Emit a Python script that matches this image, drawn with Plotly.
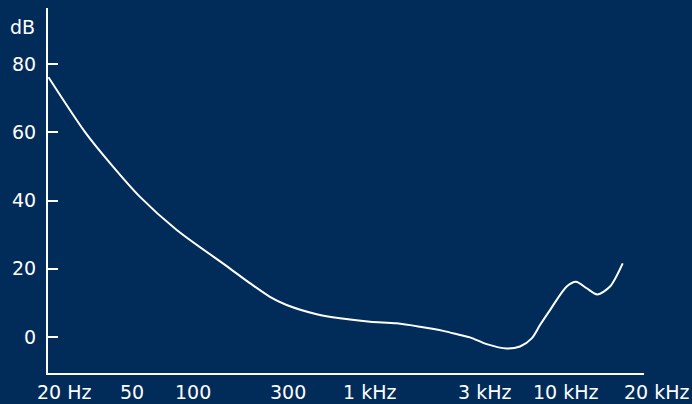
import math
import plotly.graph_objects as go

# Threshold-of-hearing style curve (frequency in Hz, level in dB)
freq_hz = [18, 27.8, 37.4, 53.4, 82.6, 149.6, 197, 250, 305, 436, 575, 821,
           1127, 1487, 1962, 2392, 2694, 3285, 4166, 4880, 5608, 6187, 6969,
           8501, 9491, 10778, 12226, 14215, 16530]
level_db = [76.2, 60.1, 51.0, 41.1, 31.4, 20.8, 15.8, 11.8, 9.4, 6.7, 5.5, 4.5,
            4.0, 3.0, 1.8, 0.6, -0.1, -2.1, -3.4, -2.8, -0.4, 3.5, 7.9,
            14.8, 16.2, 14.3, 12.5, 14.8, 21.6]

x_tick_vals = [20, 50, 100, 300, 1000, 3000, 10000, 20000]
x_tick_text = ["20 Hz", "50", "100", "300", "1 kHz", "3 kHz", "10 kHz", "20 kHz"]
y_tick_vals = [0, 20, 40, 60, 80]
y_unit = "dB"

# ---- styling ----
BG = "#012c5a"
FG = "#ffffff"
FONT = "DejaVu Sans"
FS = 19
label_nudge_px = [7, -2, 0, 3, -17, 5, -14, 18]   # hand placement of x labels

fig = go.Figure()
fig.add_trace(go.Scatter(
    x=freq_hz, y=level_db, mode="lines",
    line=dict(color=FG, width=2, shape="spline", smoothing=0.8),
    hoverinfo="skip", showlegend=False,
))

annotations = [dict(
    text=y_unit, xref="paper", yref="paper", x=0, y=0.949,
    xanchor="right", yanchor="middle", xshift=-11, showarrow=False,
    font=dict(family=FONT, size=FS, color=FG),
)]
for v, t, dx in zip(x_tick_vals, x_tick_text, label_nudge_px):
    annotations.append(dict(
        text=t, x=math.log10(v), xref="x", y=0, yref="paper",
        xanchor="center", yanchor="bottom", xshift=dx, yshift=-31,
        borderpad=0,
        showarrow=False, font=dict(family=FONT, size=FS, color=FG),
    ))

fig.update_layout(
    width=692, height=404,
    margin=dict(l=48, r=48, t=8, b=31, pad=0),
    paper_bgcolor=BG, plot_bgcolor=BG,
    font=dict(family=FONT, size=FS, color=FG),
    showlegend=False,
    xaxis=dict(
        type="log", range=[1.2528, 4.3282],
        showline=True, linecolor=FG, linewidth=2,
        showgrid=False, zeroline=False, ticks="",
        showticklabels=False,
    ),
    yaxis=dict(
        range=[-10.56, 96.5],
        showline=True, linecolor=FG, linewidth=2,
        showgrid=False, zeroline=False,
        ticks="inside", ticklen=10, tickwidth=2, tickcolor=FG,
        tickvals=y_tick_vals,
        ticklabelstandoff=6,
        tickfont=dict(family=FONT, size=FS, color=FG),
    ),
    annotations=annotations,
)

fig.write_html(
    "out.html",
    config={"displayModeBar": False},
    post_script="document.body.style.margin='0';document.body.style.background='" + BG + "';",
)
